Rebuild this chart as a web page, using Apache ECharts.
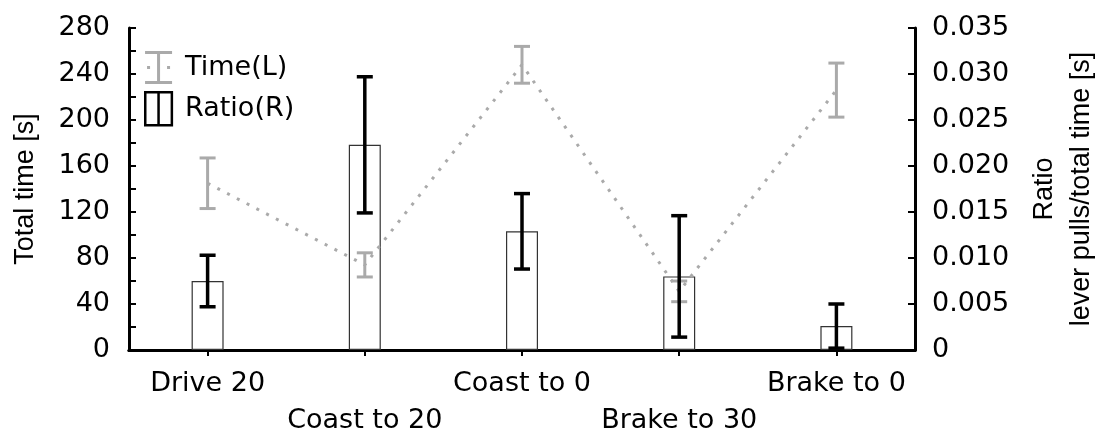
<!DOCTYPE html>
<html>
<head>
<meta charset="utf-8">
<script src="https://cdn.jsdelivr.net/npm/echarts@6/dist/echarts.min.js"></script>
<style>
html,body{margin:0;padding:0;background:#fff;}
#chart{width:1099px;height:434px;}
</style>
</head>
<body>
<div id="chart"></div>
<script>
// ---- data ----
const categories = ['Drive 20', 'Coast to 20', 'Coast to 0', 'Brake to 30', 'Brake to 0'];
const timeMean = [145, 74, 248, 51, 226];
const timeErr = [22, 10.5, 16, 9, 23.5];
const ratioMean = [0.0075, 0.0223, 0.0129, 0.0080, 0.0026];
const ratioErr = [0.0028, 0.0074, 0.0041, 0.0066, 0.0024];
const leftTicks = [0, 280, 40];      // min, max, label step
const rightTicks = [0, 0.035, 0.005];

const FONT = 'DejaVu Sans';
const FONT_ROT = 'Liberation Sans';
const FS = 27;

const timeErrData = categories.map((c, i) => [i, timeMean[i] - timeErr[i], timeMean[i] + timeErr[i]]);
const ratioErrData = categories.map((c, i) => [i, ratioMean[i] - ratioErr[i], ratioMean[i] + ratioErr[i]]);

function errRender(color, w, capW) {
  return function (params, api) {
    const x = api.value(0);
    const pLo = api.coord([x, api.value(1)]);
    const pHi = api.coord([x, api.value(2)]);
    const h = capW / 2;
    const st = { stroke: color, lineWidth: w };
    return {
      type: 'group',
      children: [
        { type: 'line', shape: { x1: pLo[0], y1: pLo[1], x2: pHi[0], y2: pHi[1] }, style: st },
        { type: 'line', shape: { x1: pHi[0] - h, y1: pHi[1], x2: pHi[0] + h, y2: pHi[1] }, style: st },
        { type: 'line', shape: { x1: pLo[0] - h, y1: pLo[1], x2: pLo[0] + h, y2: pLo[1] }, style: st }
      ]
    };
  };
}

const chart = echarts.init(document.getElementById('chart'), null, { renderer: 'canvas' });
const axisLine = { show: true, lineStyle: { color: '#000', width: 3 } };
const option = {
  animation: false,
  backgroundColor: '#fff',
  textStyle: { fontFamily: FONT, color: '#000' },
  grid: { left: 129, right: 184, top: 28, bottom: 84, containLabel: false, outerBoundsMode: 'none' },
  legend: {
    orient: 'vertical',
    left: 139,
    top: 46,
    itemWidth: 27,
    itemHeight: 33,
    itemGap: 7,
    textStyle: { fontFamily: FONT, fontSize: FS, color: '#000', padding: [0, 0, 0, 8] },
    data: [
      { name: 'Time(L)', icon: 'path://M0,0H27V3H15V30H27V33H0V30H12V3H0Z M2,15H5V18H2Z M22,15H25V18H22Z',
        itemStyle: { color: '#aaaaaa', borderWidth: 0 } },
      { name: 'Ratio(R)', icon: 'path://M1,1H26V32H1Z M13.5,1V32',
        itemStyle: { color: '#ffffff', borderColor: '#000', borderWidth: 2.5 } }
    ]
  },
  xAxis: [
    {
      type: 'category', data: categories, position: 'bottom',
      axisLine: axisLine,
      axisTick: { show: true, inside: true, alignWithLabel: true, length: 6, lineStyle: { color: '#000', width: 2 } },
      axisLabel: {
        fontFamily: FONT, fontSize: FS, color: '#000', margin: 15, lineHeight: 37, interval: 0,
        formatter: (v, i) => (i % 2 === 1 ? '\n' + v : v)
      },
      splitLine: { show: false }
    },
    {
      type: 'category', data: categories, position: 'top',
      axisLine: axisLine,
      axisTick: { show: true, inside: true, alignWithLabel: true, length: 6, lineStyle: { color: '#000', width: 2 } },
      axisLabel: { show: false },
      splitLine: { show: false }
    }
  ],
  yAxis: [
    {
      type: 'value', position: 'left', min: leftTicks[0], max: leftTicks[1], interval: leftTicks[2],
      name: 'Total time [s]', nameLocation: 'middle', nameGap: 90, nameRotate: 90,
      nameTextStyle: { fontFamily: FONT_ROT, fontSize: FS, color: '#000' },
      axisLine: axisLine,
      axisTick: { show: true, inside: true, length: 7, lineStyle: { color: '#000', width: 2 } },
      minorTick: { show: true, splitNumber: 2, length: 7, lineStyle: { color: '#000', width: 2 } },
      axisLabel: { fontFamily: FONT, fontSize: FS, color: '#000', margin: 19 },
      splitLine: { show: false }
    },
    {
      type: 'value', position: 'right', min: rightTicks[0], max: rightTicks[1], interval: rightTicks[2],
      name: 'Ratio\nlever pulls/total time [s]', nameLocation: 'middle', nameGap: 111, nameRotate: 90,
      nameTextStyle: { fontFamily: FONT_ROT, fontSize: FS, color: '#000', lineHeight: 37, align: 'center' },
      axisLine: axisLine,
      axisTick: { show: true, inside: true, length: 7, lineStyle: { color: '#000', width: 2 } },
      axisLabel: { fontFamily: FONT, fontSize: FS, color: '#000', margin: 17,
        formatter: v => (v === 0 ? '0' : v.toFixed(3)) },
      splitLine: { show: false }
    }
  ],
  series: [
    {
      name: 'Ratio(R)', type: 'bar', xAxisIndex: 0, yAxisIndex: 1, data: ratioMean, barWidth: 32, z: 1,
      itemStyle: { color: '#fff', borderColor: '#333', borderWidth: 1.2 }
    },
    {
      name: 'Time(L)', type: 'line', xAxisIndex: 0, yAxisIndex: 0, data: timeMean, z: 2,
      symbol: 'none', showSymbol: false, color: '#aaaaaa',
      lineStyle: { color: '#aaaaaa', width: 3, type: [3, 8], cap: 'butt' }
    },
    {
      name: 'TimeErr', type: 'custom', xAxisIndex: 0, yAxisIndex: 0, data: timeErrData, z: 3,
      encode: { x: 0, y: [1, 2] }, renderItem: errRender('#aaaaaa', 3, 16)
    },
    {
      name: 'RatioErr', type: 'custom', xAxisIndex: 0, yAxisIndex: 1, data: ratioErrData, z: 4,
      encode: { x: 0, y: [1, 2] }, renderItem: errRender('#000000', 3.5, 16)
    }
  ]
};
chart.setOption(option);
</script>
</body>
</html>
